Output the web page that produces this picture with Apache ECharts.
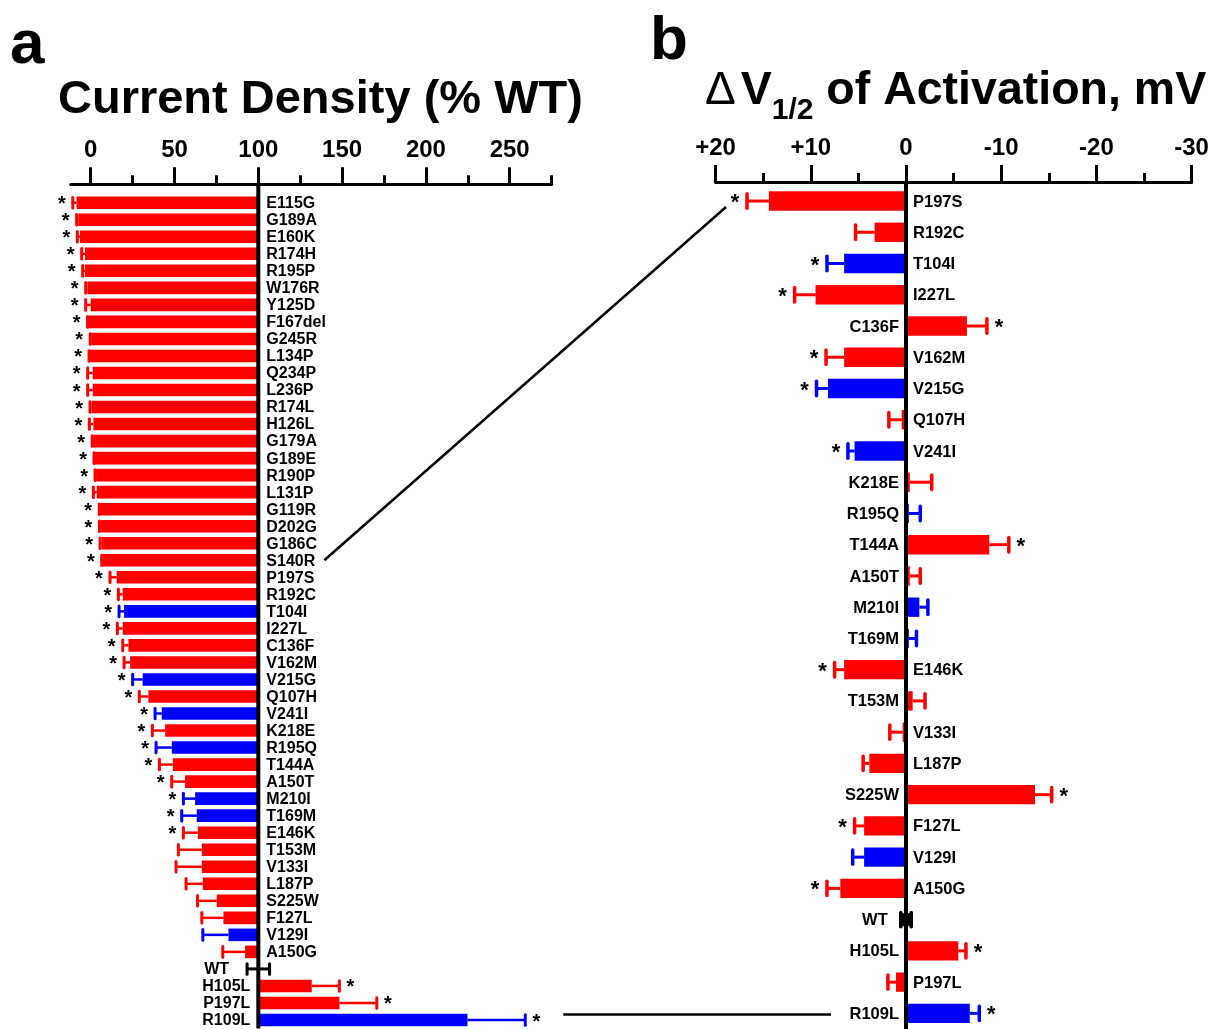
<!DOCTYPE html>
<html>
<head>
<meta charset="utf-8">
<script src="https://cdn.jsdelivr.net/npm/echarts@6/dist/echarts.min.js"></script>
<style>
  html, body { margin: 0; padding: 0; background: #fff; }
  #chart { width: 1222px; height: 1029px; }
</style>
</head>
<body>
<div id="chart"></div>
<script>
// panel a: current density, % of WT
var densityNames = ['E115G', 'G189A', 'E160K', 'R174H', 'R195P', 'W176R', 'Y125D', 'F167del', 'G245R', 'L134P',
  'Q234P', 'L236P', 'R174L', 'H126L', 'G179A', 'G189E', 'R190P', 'L131P', 'G119R', 'D202G',
  'G186C', 'S140R', 'P197S', 'R192C', 'T104I', 'I227L', 'C136F', 'V162M', 'V215G', 'Q107H',
  'V241I', 'K218E', 'R195Q', 'T144A', 'A150T', 'M210I', 'T169M', 'E146K', 'T153M', 'V133I',
  'L187P', 'S225W', 'F127L', 'V129I', 'A150G', 'WT', 'H105L', 'P197L', 'R109L'];
var densityMean = [-8.4, -7.4, -6.4, -3.4, -3.4, -2, 0, -1.4, 0.3, -0.4,
  1.2, 1.2, 0.6, 1.6, 1.5, 2.6, 3.2, 3.6, 5.6, 6,
  6.6, 7.2, 15.5, 19.1, 19.9, 19.1, 22.5, 23.5, 31, 34.4,
  42.4, 44.4, 48.4, 49, 56.3, 62.3, 63.3, 63.9, 66.3, 66.3,
  66.9, 75.2, 79.2, 82.2, 92.1, 100, 131.9, 148.4, 224.8];
var densityErr = [2.3, 1, 1.6, 2, 1.4, 1, 3, 0.5, 0.6, 0.6,
  3, 3, 1, 2.4, 0.6, 0.6, 0.6, 2, 0.5, 0.8,
  1, 0.6, 4, 2.6, 3, 3.2, 3.4, 3.6, 6, 5.4,
  4, 7.6, 9.4, 8, 8, 7, 9, 8.6, 14, 15.4,
  10, 11.5, 12.9, 15.3, 13.3, 6.7, 16.5, 22.3, 34.5];
var densitySig = [1, 1, 1, 1, 1, 1, 1, 1, 1, 1,
  1, 1, 1, 1, 1, 1, 1, 1, 1, 1,
  1, 1, 1, 1, 1, 1, 1, 1, 1, 1,
  1, 1, 1, 1, 1, 1, 1, 1, 0, 0,
  0, 0, 0, 0, 0, 0, 1, 1, 1];
var densityMajorTicks = [0, 50, 100, 150, 200, 250];
var densityMinorTicks = [25, 75, 125, 175, 225, 275];

// panel b: shift of activation V1/2, mV (positive drawn to the left)
var shiftNames = ['P197S', 'R192C', 'T104I', 'I227L', 'C136F', 'V162M', 'V215G', 'Q107H', 'V241I', 'K218E',
  'R195Q', 'T144A', 'A150T', 'M210I', 'T169M', 'E146K', 'T153M', 'V133I', 'L187P', 'S225W',
  'F127L', 'V129I', 'A150G', 'WT', 'H105L', 'P197L', 'R109L'];
var shiftMean = [14.4, 3.3, 6.5, 9.5, -6.4, 6.5, 8.2, 0.45, 5.4, -0.4,
  -0.3, -8.75, -0.4, -1.4, -0.3, 6.5, -0.7, 0.35, 3.85, -13.55,
  4.4, 4.4, 6.9, 0, -5.5, 1.05, -6.7];
var shiftErr = [2.3, 2, 1.8, 2.2, 2.1, 1.9, 1.2, 1.35, 0.7, 2.3,
  1.2, 2.05, 1.1, 0.9, 0.8, 1, 1.3, 1.35, 0.65, 1.75,
  1, 1.2, 1.4, 0.55, 0.8, 0.85, 1];
var shiftSig = [1, 0, 1, 1, 1, 1, 1, 0, 1, 0,
  0, 1, 0, 0, 0, 1, 0, 0, 0, 1,
  1, 0, 1, 0, 1, 0, 1];

var blueMutants = ['T104I', 'V215G', 'V241I', 'R195Q', 'M210I', 'T169M', 'V129I', 'R109L'];

var FONT = '"Liberation Sans", Arial, sans-serif';

function mutColor(name) {
  if (name === 'WT') return '#000000';
  return blueMutants.indexOf(name) >= 0 ? '#0000ff' : '#ff0000';
}

function barRenderer(cfg) {
  return function (params, api) {
    var i = params.dataIndex;
    var name = cfg.names[i];
    var cat = api.value(1);
    var mean = api.value(0);
    var err = cfg.err[i];
    var color = mutColor(name);
    var base = cfg.base;
    var band = api.size([0, 1])[1];
    var bp = api.coord([base, cat]);
    var y = bp[1], bx = bp[0];
    var mx = api.coord([mean, cat])[0];
    var s = mean > base ? 1 : (mean < base ? -1 : 0);
    var h = band * cfg.barRatio;
    var capH = band * cfg.capRatio;
    var kids = [];
    if (s !== 0) {
      kids.push({type: 'rect', shape: {x: Math.min(bx, mx), y: y - h / 2, width: Math.abs(mx - bx), height: h},
        style: {fill: color}});
    }
    var ends = s === 0 ? [base - err, base + err] : [mean + s * err];
    var capXs = [];
    ends.forEach(function (v) {
      var cx = api.coord([v, cat])[0];
      capXs.push(cx);
      kids.push({type: 'line', shape: {x1: s === 0 ? bx : mx, y1: y, x2: cx, y2: y},
        style: {stroke: color, lineWidth: s === 0 ? cfg.wtW : cfg.errW}});
      kids.push({type: 'line', shape: {x1: cx, y1: y - capH / 2, x2: cx, y2: y + capH / 2},
        style: {stroke: color, lineWidth: cfg.capW, lineCap: 'round'}});
    });
    if (cfg.sig[i]) {
      var c = capXs[0];
      var d = c < bx ? -1 : 1;
      kids.push({type: 'text', style: {text: '*', x: c + d * cfg.starGap, y: y + cfg.starDy,
        fill: '#000', fontSize: cfg.starSize, fontWeight: 'bold', fontFamily: FONT,
        align: 'center', verticalAlign: 'middle'}});
    }
    var leftSide = mx < bx;
    var lx;
    if (leftSide) {
      lx = bx + cfg.labelGap;
    } else {
      lx = Math.min.apply(null, [bx].concat(capXs)) - cfg.labelGap - (s === 0 ? cfg.wtExtra : 0);
    }
    kids.push({type: 'text', style: {text: name, x: lx, y: y + 1,
      fill: '#000', fontSize: cfg.labelSize, fontWeight: 'bold', fontFamily: FONT,
      align: leftSide ? 'left' : 'right', verticalAlign: 'middle'}});
    return {type: 'group', children: kids};
  };
}

function baseLineRenderer(base, up) {
  return function (params, api) {
    var cs = params.coordSys;
    var x = api.coord([base, 0])[0];
    return {type: 'line', shape: {x1: x, y1: cs.y - up, x2: x, y2: cs.y + cs.height},
      style: {stroke: '#000', lineWidth: 4}};
  };
}

var tickLabel = {fontSize: 24, fontWeight: 'bold', fontFamily: FONT, color: '#000', margin: 22};

var chart = echarts.init(document.getElementById('chart'));

var option = {
  animation: false,
  backgroundColor: '#fff',
  title: [
    {text: 'a', left: 10, top: 15, padding: 0, textStyle: {fontSize: 62, fontWeight: 'bold', fontFamily: FONT, color: '#000'}},
    {text: 'Current Density (% WT)', left: 58, top: 77, padding: 0,
      textStyle: {fontSize: 47, fontWeight: 'bold', fontFamily: FONT, color: '#000'}},
    {text: 'b', left: 650, top: 11, padding: 0, textStyle: {fontSize: 62, fontWeight: 'bold', fontFamily: FONT, color: '#000'}},
    {text: '{d|\u0394} {v|V}{s|1/2}{v| of Activation, mV}', left: 705, top: 68, padding: 0,
      textStyle: {
        fontFamily: FONT, color: '#000',
        rich: {
          d: {fontSize: 46, fontWeight: 'normal', fontFamily: FONT, color: '#000', verticalAlign: 'top', lineHeight: 54},
          v: {fontSize: 46.5, fontWeight: 'bold', fontFamily: FONT, color: '#000', verticalAlign: 'top', lineHeight: 54},
          s: {fontSize: 30, fontWeight: 'bold', fontFamily: FONT, color: '#000', verticalAlign: 'top', lineHeight: 54, padding: [28, 0, 0, 0]}
        }
      }}
  ],
  grid: [
    {left: 70.6, width: 481, top: 194.2, height: 834.3},
    {left: 715.6, width: 476, top: 185.4, height: 844.3}
  ],
  xAxis: [
    {gridIndex: 0, type: 'value', position: 'top', min: -12, max: 275, offset: 10,
      axisLine: {show: true, lineStyle: {color: '#000', width: 3}},
      axisTick: {show: true, customValues: densityMajorTicks, length: 17, lineStyle: {color: '#000', width: 3}},
      axisLabel: Object.assign({customValues: densityMajorTicks}, tickLabel),
      splitLine: {show: false}},
    {gridIndex: 0, type: 'value', position: 'top', min: -12, max: 275, offset: 10,
      axisLine: {show: false},
      axisTick: {show: true, customValues: densityMinorTicks, length: 9, lineStyle: {color: '#000', width: 3}},
      axisLabel: {show: false},
      splitLine: {show: false}},
    {gridIndex: 1, type: 'value', position: 'top', inverse: true, min: -30, max: 20, interval: 10, offset: 3.4,
      axisLine: {show: true, lineStyle: {color: '#000', width: 3}},
      axisTick: {show: true, length: 17, lineStyle: {color: '#000', width: 3}},
      minorTick: {show: true, splitNumber: 2, length: 9, lineStyle: {color: '#000', width: 3}},
      axisLabel: Object.assign({formatter: function (v) { return v > 0 ? '+' + v : '' + v; }}, tickLabel),
      splitLine: {show: false}}
  ],
  yAxis: [
    {gridIndex: 0, type: 'category', inverse: true, data: densityNames, show: false},
    {gridIndex: 1, type: 'category', inverse: true, data: shiftNames, show: false}
  ],
  series: [
    {type: 'custom', xAxisIndex: 0, yAxisIndex: 0, z: 2,
      data: densityNames.map(function (n, i) { return [densityMean[i], n]; }),
      renderItem: barRenderer({names: densityNames, err: densityErr, sig: densitySig, base: 100,
        barRatio: 0.74, capRatio: 0.62, errW: 2.5, wtW: 3, capW: 3, starGap: 11, starDy: 2, starSize: 20,
        labelSize: 16, labelGap: 8, wtExtra: 10})},
    {type: 'custom', xAxisIndex: 2, yAxisIndex: 1, z: 2,
      data: shiftNames.map(function (n, i) { return [shiftMean[i], n]; }),
      renderItem: barRenderer({names: shiftNames, err: shiftErr, sig: shiftSig, base: 0,
        barRatio: 0.62, capRatio: 0.46, errW: 3, wtW: 13, capW: 3.5, starGap: 12, starDy: 2, starSize: 22,
        labelSize: 16.5, labelGap: 7, wtExtra: 6})},
    {type: 'custom', xAxisIndex: 0, yAxisIndex: 0, z: 3, data: [[100, 0]],
      renderItem: baseLineRenderer(100, 10)},
    {type: 'custom', xAxisIndex: 2, yAxisIndex: 1, z: 3, data: [[0, 0]],
      renderItem: baseLineRenderer(0, 3.4)}
  ]
};

chart.setOption(option);

// connector lines between the two panels, placed from axis coordinates
var fromA = chart.convertToPixel({xAxisIndex: 0, yAxisIndex: 0}, [100, 'S140R']);
var toB = chart.convertToPixel({xAxisIndex: 2, yAxisIndex: 1}, [shiftMean[0] + shiftErr[0], 'P197S']);
var last = densityNames.length - 1;
var fromA2 = chart.convertToPixel({xAxisIndex: 0, yAxisIndex: 0}, [densityMean[last] + densityErr[last], 'R109L']);
var toB2 = chart.convertToPixel({xAxisIndex: 2, yAxisIndex: 1}, [0, 'R109L']);

chart.setOption({
  graphic: [
    {type: 'line', shape: {x1: fromA[0] + 66, y1: fromA[1], x2: toB[0] - 21, y2: toB[1] + 6},
      style: {stroke: '#000', lineWidth: 2.5}},
    {type: 'line', shape: {x1: fromA2[0] + 38, y1: toB2[1] + 1, x2: toB2[0] - 75, y2: toB2[1] + 1},
      style: {stroke: '#000', lineWidth: 2.5}}
  ]
});
</script>
</body>
</html>
